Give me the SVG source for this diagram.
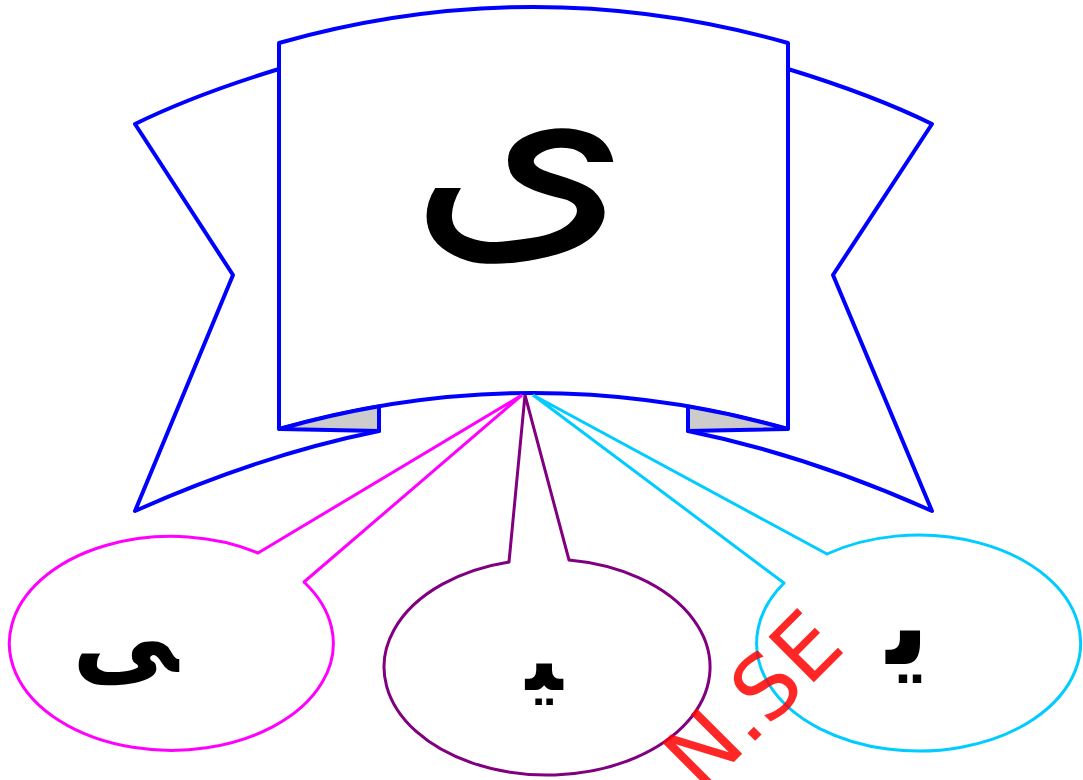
<svg xmlns="http://www.w3.org/2000/svg" width="1083" height="780" viewBox="0 0 1083 780">
<style>
.ban{fill:#fff;stroke:#0000ff;stroke-width:4;stroke-linejoin:round}
.fold{fill:#cccccc;stroke:#0000ff;stroke-width:4;stroke-linejoin:round}
.ell{fill:none;stroke-width:3}
.lbl{font-family:"DejaVu Sans","Noto Sans",sans-serif;fill:#000;text-anchor:middle}
.sm{font-weight:bold}
.wm{font-family:"DejaVu Sans","Liberation Sans",sans-serif;font-size:88px;fill:#ff0000;fill-opacity:0.85}
</style>
<rect width="1083" height="780" fill="#fff"/>
<g id="banner">
<path class="ban" d="M279,69 Q194,95 135,124 L233,275 L135,511 Q260,455 379,431 L379,406 L279,300 Z"/>
<path class="ban" d="M788,69 Q873,95 932,124 L833,275 L932,511 Q807,455 688,431 L688,406 L788,300 Z"/>
<path class="ban" d="M279,43 Q533.5,-29 788,43 L788,429 Q533.5,357 279,429 Z"/>
<path class="fold" d="M280,429 Q329.4,415 379,406.4 L379,431 Z"/>
<path class="fold" d="M787,429 Q737.6,415 688,406.4 L688,431 Z"/>
<text class="lbl" font-size="250" transform="translate(520,231) scale(1.14,1)">ی</text>
</g>
<g id="connectors" fill="none" stroke-width="3" stroke-linecap="round">
<polyline stroke="#ff00ff" points="258,553 522,395 304,582"/>
<polyline stroke="#800080" points="509,562 525,395 569,560"/>
<polyline stroke="#00ccff" points="827,554 533,395 784,583"/>
</g>
<g id="final">
<path class="ell" stroke="#ff00ff" d="M304,582 A162,107 0 1 1 258,553"/>
<text class="lbl sm" x="125" y="672" font-size="105">‍ی</text>
</g>
<g id="medial">
<path class="ell" stroke="#800080" d="M569,560 A163,108 0 1 1 509,562"/>
<text class="lbl sm" x="544" y="690" font-size="90">‍ی‍</text>
</g>
<g id="initial">
<path class="ell" stroke="#00ccff" d="M827,554 A162,108 0 1 1 784,583"/>
<text class="lbl sm" x="908" y="664" font-size="115">ی‍</text>
</g>
<text class="wm" text-anchor="end" transform="translate(847,649) rotate(-45)">N.SE</text>
</svg>
